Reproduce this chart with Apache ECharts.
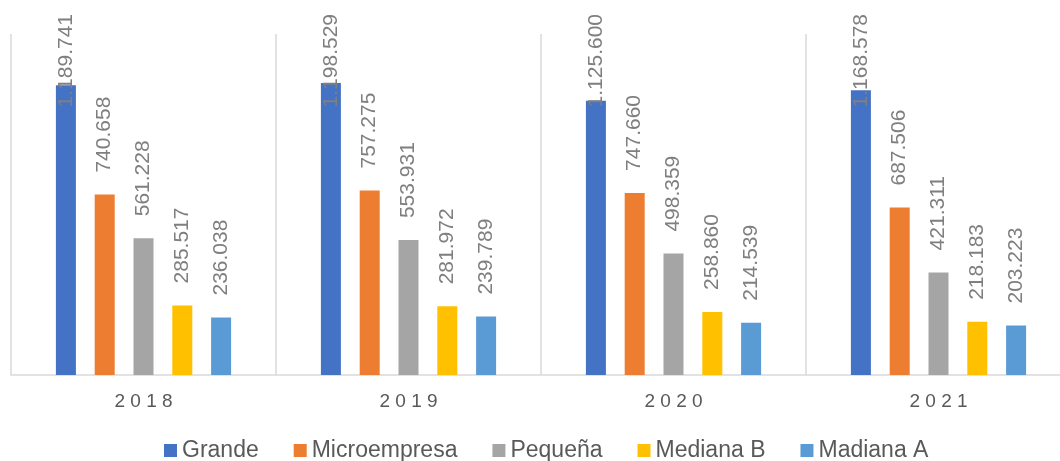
<!DOCTYPE html>
<html>
<head>
<meta charset="utf-8">
<script src="https://cdn.jsdelivr.net/npm/echarts@6/dist/echarts.min.js"></script>
<style>
  html, body { margin: 0; padding: 0; background: #fff; }
  #chart { width: 1060px; height: 461px; }
</style>
</head>
<body>
<div id="chart"></div>
<script>
// datos
const years = ['2018', '2019', '2020', '2021'];
const grande = [1189741, 1198529, 1125600, 1168578];
const microempresa = [740658, 757275, 747660, 687506];
const pequena = [561228, 553931, 498359, 421311];
const medianaB = [285517, 281972, 258860, 218183];
const madianaA = [236038, 239789, 214539, 203223];

const font = "'Liberation Sans', Arial, sans-serif";

// formato 1.189.741
function fmt(v) {
  return String(v).replace(/\B(?=(\d{3})+(?!\d))/g, '.');
}

function barSeries(name, data, color) {
  return {
    name: name,
    type: 'bar',
    data: data,
    barWidth: 20,
    barGap: '94%',
    itemStyle: { color: color },
    label: {
      show: true,
      position: 'top',
      distance: 22,
      rotate: 90,
      align: 'left',
      verticalAlign: 'middle',
      color: '#7f7f7f',
      fontFamily: font,
      fontSize: 21,
      formatter: p => fmt(p.value)
    }
  };
}

const chart = echarts.init(document.getElementById('chart'));
chart.setOption({
  animation: false,
  grid: { left: 11, width: 1060, top: 34, bottom: 86, outerBoundsMode: 'none' },
  legend: {
    top: 434,
    left: 159,
    icon: 'rect',
    itemWidth: 13,
    itemHeight: 13,
    itemGap: 35,
    textStyle: { color: '#595959', fontFamily: font, fontSize: 23 }
  },
  xAxis: {
    type: 'category',
    data: years,
    axisTick: { show: false },
    axisLine: { lineStyle: { color: '#d9d9d9', width: 1.5 } },
    splitLine: { show: true, lineStyle: { color: '#d9d9d9', width: 1.5 } },
    axisLabel: {
      color: '#595959',
      fontFamily: font,
      fontSize: 19,
      margin: 17,
      formatter: v => v.split('').join(' ')
    }
  },
  yAxis: {
    type: 'value',
    min: 0,
    max: 1400000,
    show: false,
    splitLine: { show: false }
  },
  // las etiquetas de Grande quedan pegadas arriba, como en Excel
  labelLayout: function (p) {
    if (p.seriesIndex === 0) {
      return { y: 14, align: 'right' };
    }
  },
  series: [
    barSeries('Grande', grande, '#4472c4'),
    barSeries('Microempresa', microempresa, '#ed7d31'),
    barSeries('Pequeña', pequena, '#a5a5a5'),
    barSeries('Mediana B', medianaB, '#ffc000'),
    barSeries('Madiana A', madianaA, '#5b9bd5')
  ]
});
</script>
</body>
</html>
